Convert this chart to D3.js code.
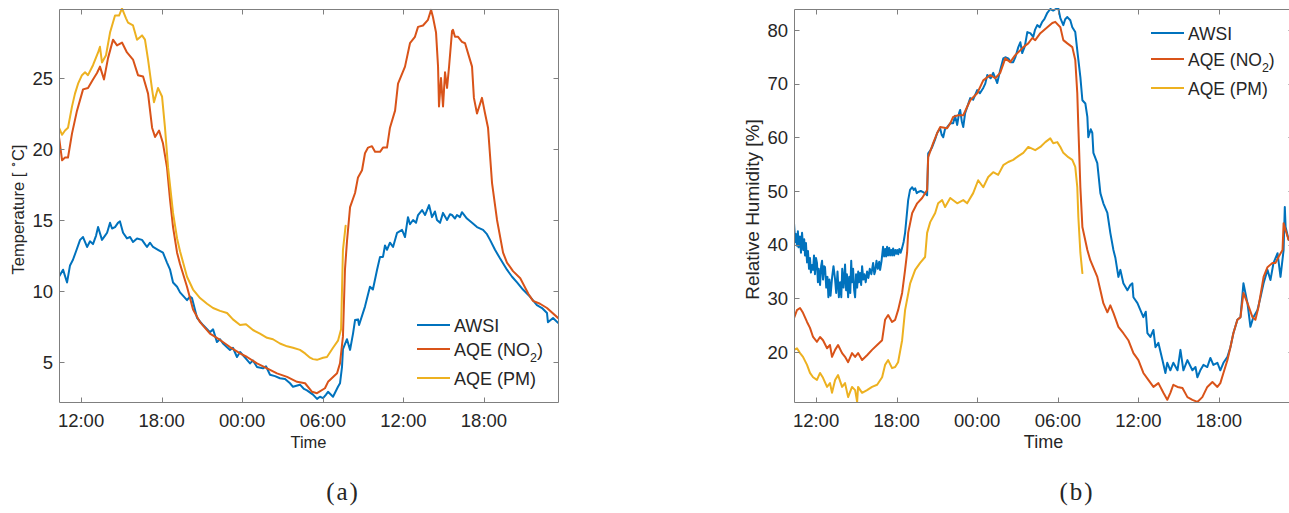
<!DOCTYPE html>
<html>
<head>
<meta charset="utf-8">
<script src="https://cdn.jsdelivr.net/npm/d3@7"></script>
<style>
  html, body { margin: 0; padding: 0; background: #ffffff; }
  svg { display: block; }
  text { font-family: "Liberation Sans", Arimo, Helvetica, Arial, sans-serif; fill: #262626; }
</style>
</head>
<body>
<svg id="chart" width="1289" height="513"></svg>
<script>
// ---------------- DATA ----------------
// time in hours since 00:00 of the first day
const timeDomain = [10.36, 47.51];
const timeTicks = [12, 18, 24, 30, 36, 42];
const timeTickLabels = ["12:00", "18:00", "00:00", "06:00", "12:00", "18:00"];
const tempTicks = [5, 10, 15, 20, 25];
const tempTickLabels = ["5", "10", "15", "20", "25"];
const rhTicks = [20, 30, 40, 50, 60, 70, 80];
const rhTickLabels = ["20", "30", "40", "50", "60", "70", "80"];
const seriesNames = ["AWSI", "AQE (NO", "AQE (PM)"];
const panelCaptions = ["(a)", "(b)"];

// (a) Temperature [°C]
const tempAWSI = [[10.36,11.0],[10.66,11.5],[10.96,10.6],[11.18,11.8],[11.40,12.2],[11.63,12.8],[11.93,13.6],[12.15,13.8],[12.45,13.1],[12.67,13.5],[12.89,13.3],[13.12,13.9],[13.27,14.5],[13.56,13.6],[13.79,13.9],[13.94,14.1],[14.16,14.8],[14.31,14.4],[14.53,14.5],[14.75,14.8],[14.90,14.9],[15.13,14.1],[15.42,13.7],[15.65,13.8],[15.87,13.45],[16.17,13.7],[16.54,13.6],[16.76,13.3],[16.91,13.1],[17.14,13.4],[17.36,13.1],[17.73,12.9],[18.10,12.7],[18.40,12.0],[18.63,11.5],[18.85,10.6],[19.15,10.3],[19.37,9.9],[19.89,9.35],[20.11,9.6],[20.26,9.5],[20.64,8.1],[21.08,7.6],[21.60,7.1],[21.83,7.3],[22.12,6.4],[22.35,6.6],[22.57,6.3],[23.09,5.85],[23.31,6.0],[23.61,5.35],[23.84,5.7],[24.21,5.3],[24.58,4.9],[24.80,5.1],[25.10,4.65],[25.55,4.55],[25.77,4.7],[26.07,4.1],[26.44,4.0],[26.81,3.85],[27.19,3.8],[27.56,3.5],[27.78,3.25],[28.30,3.4],[28.60,3.1],[28.82,3.0],[29.27,2.7],[29.57,2.4],[29.79,2.55],[30.02,2.45],[30.24,2.7],[30.39,2.9],[30.76,2.55],[31.13,3.25],[31.28,3.5],[31.43,4.65],[31.50,5.9],[31.80,6.6],[32.03,5.85],[32.25,7.0],[32.40,7.95],[32.62,8.0],[32.70,7.6],[33.14,8.9],[33.51,10.3],[33.73,10.1],[34.04,11.5],[34.26,12.4],[34.48,12.4],[34.63,13.2],[34.78,12.9],[35.00,13.4],[35.23,13.1],[35.53,14.1],[35.90,14.3],[36.12,13.8],[36.34,15.2],[36.49,14.7],[36.72,15.0],[36.94,14.8],[37.09,15.35],[37.39,15.7],[37.61,15.35],[37.91,16.05],[38.13,15.2],[38.35,15.6],[38.50,15.0],[38.73,14.8],[38.95,15.5],[39.25,15.0],[39.47,15.4],[39.62,15.35],[39.84,15.1],[39.99,15.35],[40.21,15.2],[40.36,15.55],[40.73,15.1],[41.11,14.8],[41.48,14.5],[41.93,14.3],[42.22,14.0],[42.45,13.6],[42.82,12.9],[43.19,12.3],[43.71,11.5],[44.09,11.0],[44.46,10.6],[44.90,10.1],[45.42,9.6],[45.94,9.0],[46.32,8.8],[46.69,8.45],[46.76,7.8],[47.14,8.1],[47.51,7.75]];
const tempNO2 = [[10.36,20.85],[10.59,19.2],[10.81,19.4],[11.03,19.4],[11.33,21.1],[11.70,22.7],[12.15,24.2],[12.52,24.3],[12.89,24.9],[13.19,25.35],[13.41,25.8],[13.71,24.9],[14.01,26.4],[14.38,27.7],[14.68,27.3],[15.05,27.5],[15.42,26.8],[15.87,26.3],[16.24,25.2],[16.62,25.1],[16.99,23.9],[17.29,21.5],[17.51,20.85],[17.81,21.3],[18.10,20.4],[18.40,18.7],[18.63,16.4],[18.85,14.5],[19.15,12.7],[19.37,11.9],[19.89,10.3],[20.34,8.7],[20.86,7.8],[21.60,7.0],[22.35,6.55],[23.09,6.05],[23.84,5.6],[24.36,5.35],[25.10,4.9],[25.85,4.55],[26.59,4.2],[27.34,3.95],[28.08,3.6],[28.68,3.5],[29.20,2.9],[29.57,2.8],[30.16,3.15],[30.39,3.6],[31.06,4.2],[31.28,4.9],[31.50,6.8],[31.65,11.5],[31.80,13.5],[32.03,15.9],[32.40,16.9],[32.62,18.0],[32.92,18.5],[33.14,19.7],[33.37,20.1],[33.66,20.2],[33.89,19.8],[34.26,19.8],[34.48,20.1],[34.78,20.1],[35.00,21.5],[35.38,22.7],[35.60,24.6],[36.12,25.8],[36.49,27.45],[36.86,27.9],[37.09,28.6],[37.46,28.7],[37.83,29.1],[38.06,29.8],[38.20,29.3],[38.43,28.2],[38.58,25.8],[38.65,23.0],[38.80,25.0],[38.95,23.0],[39.10,25.4],[39.25,24.3],[39.40,25.8],[39.62,28.3],[39.69,28.4],[39.84,27.9],[40.07,27.9],[40.36,27.55],[40.59,27.45],[40.81,26.75],[41.11,25.8],[41.25,23.6],[41.48,22.5],[41.85,23.6],[42.08,22.5],[42.30,21.5],[42.60,17.6],[42.97,15.0],[43.42,12.7],[43.71,12.0],[44.16,11.4],[44.70,10.9],[45.30,9.8],[45.65,9.3],[46.17,9.1],[46.69,8.8],[47.51,8.1]];
const tempPM = [[10.36,21.5],[10.59,21.0],[10.81,21.3],[11.03,21.5],[11.33,23.0],[11.55,23.9],[11.78,24.6],[12.07,25.2],[12.30,25.4],[12.52,25.2],[12.89,25.9],[13.27,26.8],[13.41,27.2],[13.56,26.1],[13.86,26.6],[14.16,28.2],[14.53,29.4],[14.83,29.4],[15.05,29.9],[15.35,29.2],[15.50,28.9],[15.87,28.7],[16.17,27.7],[16.54,28.0],[16.76,27.7],[16.99,26.3],[17.29,24.2],[17.43,23.3],[17.73,24.3],[18.03,23.7],[18.25,21.5],[18.48,18.7],[18.85,15.5],[19.15,13.7],[19.37,12.8],[19.89,11.0],[20.34,10.1],[20.86,9.5],[21.38,9.1],[21.83,8.8],[22.35,8.6],[22.87,8.45],[23.31,8.0],[23.84,7.6],[24.28,7.65],[24.80,7.25],[25.32,7.0],[25.85,6.7],[26.29,6.6],[26.81,6.3],[27.34,6.1],[27.78,6.0],[28.30,5.85],[28.68,5.6],[29.05,5.3],[29.27,5.2],[29.57,5.15],[30.02,5.3],[30.31,5.35],[30.76,6.0],[31.13,6.5],[31.36,7.3],[31.50,12.9],[31.70,14.6]];

// (b) Relative Humidity [%]
const rhAWSI = [[10.36,44.0],[10.45,40.5],[10.50,42.0],[10.58,39.8],[10.65,42.5],[10.70,39.5],[10.80,41.5],[10.88,38.5],[10.96,42.2],[11.05,39.0],[11.12,41.0],[11.18,38.0],[11.25,40.3],[11.33,36.7],[11.40,38.8],[11.48,35.5],[11.55,37.5],[11.62,34.8],[11.70,36.2],[11.78,35.3],[11.85,38.0],[11.92,34.5],[12.00,37.5],[12.07,36.6],[12.14,33.0],[12.20,35.5],[12.30,32.5],[12.38,36.0],[12.45,37.0],[12.52,33.5],[12.60,36.0],[12.67,35.8],[12.76,32.0],[12.85,34.0],[12.92,30.2],[13.00,33.5],[13.08,30.5],[13.20,34.0],[13.30,36.0],[13.42,33.5],[13.50,31.0],[13.60,35.0],[13.70,30.2],[13.79,33.0],[13.88,30.2],[13.95,35.5],[14.05,32.0],[14.16,36.3],[14.24,31.5],[14.30,34.5],[14.39,30.2],[14.47,34.0],[14.55,31.0],[14.62,37.0],[14.68,33.0],[14.76,35.5],[14.84,31.5],[14.91,30.2],[14.98,34.5],[15.06,32.0],[15.14,35.0],[15.20,33.0],[15.28,34.7],[15.36,32.5],[15.43,36.0],[15.52,33.5],[15.60,34.5],[15.70,33.0],[15.80,35.0],[15.90,33.8],[16.00,35.5],[16.12,34.5],[16.25,36.6],[16.34,34.5],[16.40,35.0],[16.50,37.0],[16.60,35.5],[16.70,36.8],[16.77,35.3],[16.88,37.0],[16.99,39.6],[17.07,37.8],[17.15,39.2],[17.22,37.8],[17.29,39.6],[17.37,38.0],[17.45,39.4],[17.52,38.0],[17.60,39.0],[17.67,38.0],[17.74,39.3],[17.82,38.0],[17.90,39.0],[17.97,38.3],[18.04,39.0],[18.12,38.2],[18.20,39.2],[18.30,38.5],[18.41,39.4],[18.52,40.5],[18.63,42.2],[18.86,48.3],[19.00,50.2],[19.16,50.7],[19.28,50.2],[19.38,50.5],[19.50,49.6],[19.60,49.8],[19.80,50.0],[19.97,49.8],[20.15,49.5],[20.27,49.2],[20.35,57.0],[20.50,57.5],[20.65,58.2],[20.85,59.5],[21.02,60.8],[21.24,61.7],[21.35,60.5],[21.47,60.0],[21.60,61.5],[21.76,61.9],[21.99,62.6],[22.21,62.6],[22.35,64.0],[22.51,62.3],[22.65,64.5],[22.73,65.1],[22.85,63.0],[22.96,61.9],[23.10,64.5],[23.25,65.6],[23.48,67.3],[23.70,67.0],[24.00,68.8],[24.20,68.2],[24.45,69.2],[24.60,70.0],[24.75,71.6],[25.00,71.0],[25.19,72.0],[25.35,71.0],[25.49,70.1],[25.71,72.5],[25.94,74.7],[26.09,74.9],[26.31,74.7],[26.50,74.0],[26.68,74.0],[26.85,75.0],[27.06,76.8],[27.21,77.7],[27.35,75.7],[27.55,77.0],[27.73,79.6],[27.95,79.4],[28.17,78.7],[28.30,80.0],[28.47,80.9],[28.65,80.5],[28.84,81.5],[29.00,82.0],[29.22,83.2],[29.44,83.9],[29.66,83.6],[29.85,83.9],[30.04,84.0],[30.19,82.2],[30.41,80.9],[30.55,82.0],[30.71,82.4],[30.93,81.8],[31.08,80.5],[31.30,79.6],[31.45,76.2],[31.68,71.2],[31.83,66.9],[32.05,66.3],[32.20,63.8],[32.27,60.0],[32.45,61.5],[32.57,60.8],[32.65,57.1],[32.94,55.2],[33.17,49.6],[33.39,47.7],[33.69,45.9],[33.91,42.2],[34.14,39.0],[34.29,37.5],[34.51,34.0],[34.66,35.3],[34.88,32.8],[35.18,31.5],[35.40,32.5],[35.55,32.8],[35.63,30.2],[35.93,29.1],[36.15,27.8],[36.37,26.5],[36.55,27.5],[36.67,23.5],[36.89,22.8],[37.12,24.1],[37.27,20.9],[37.49,21.7],[37.79,18.5],[38.01,16.1],[38.15,18.0],[38.38,16.6],[38.60,18.0],[38.91,16.6],[39.13,20.4],[39.35,16.6],[39.65,18.5],[40.02,16.6],[40.25,17.2],[40.39,15.3],[40.61,16.6],[40.84,17.6],[41.13,17.2],[41.36,18.9],[41.58,17.6],[41.88,18.0],[42.10,16.6],[42.33,18.0],[42.63,19.1],[42.85,20.9],[43.07,23.5],[43.37,26.0],[43.60,26.5],[43.82,32.8],[44.12,29.1],[44.34,24.7],[44.56,26.5],[44.86,27.8],[45.09,30.2],[45.32,32.8],[45.61,35.3],[45.83,33.4],[46.06,36.6],[46.36,38.4],[46.58,34.0],[46.81,39.0],[46.90,47.0],[46.96,43.3],[47.18,40.9]];
const rhNO2 = [[10.36,26.3],[10.58,27.8],[10.81,28.2],[11.03,27.3],[11.33,25.6],[11.55,24.5],[11.78,22.8],[12.07,21.9],[12.30,22.8],[12.52,22.2],[12.82,20.7],[13.04,21.3],[13.19,19.1],[13.42,20.4],[13.64,21.3],[13.94,19.8],[14.16,19.1],[14.39,18.1],[14.68,19.8],[14.91,19.1],[15.13,19.8],[15.43,18.5],[15.80,19.4],[16.17,20.4],[16.55,21.3],[16.92,22.2],[17.14,26.0],[17.37,26.9],[17.66,25.6],[17.89,26.0],[18.11,27.8],[18.41,31.0],[18.63,35.3],[18.78,38.5],[18.86,42.2],[19.16,45.9],[19.53,47.7],[19.90,48.7],[20.27,50.2],[20.35,56.3],[20.72,58.9],[21.02,60.8],[21.24,61.9],[21.76,61.7],[21.99,62.6],[22.21,63.8],[22.58,64.1],[22.96,64.1],[23.48,66.9],[24.00,68.2],[24.45,70.6],[24.97,71.6],[25.34,71.0],[25.71,72.0],[26.09,74.7],[26.46,74.0],[26.83,75.3],[27.21,76.2],[27.43,76.8],[27.80,77.5],[28.10,78.5],[28.32,78.1],[28.70,79.4],[29.22,80.5],[29.59,81.3],[29.81,81.5],[30.19,80.5],[30.41,78.1],[30.71,77.5],[31.08,76.8],[31.30,74.4],[31.45,68.2],[31.53,61.9],[31.68,50.7],[31.83,43.3],[32.20,39.0],[32.42,37.1],[32.94,34.0],[33.17,31.5],[33.39,29.1],[33.69,27.4],[33.91,28.7],[34.14,27.3],[34.51,24.7],[34.88,23.5],[35.25,22.2],[35.63,19.8],[36.00,18.5],[36.37,16.1],[36.74,14.8],[37.12,13.5],[37.49,14.2],[37.86,12.4],[38.15,11.1],[38.38,12.4],[38.60,13.9],[38.91,13.5],[39.28,13.3],[39.65,11.6],[40.02,11.1],[40.39,10.7],[40.76,11.6],[41.13,13.5],[41.51,14.4],[41.88,13.5],[42.10,14.2],[42.33,16.1],[42.63,18.5],[42.85,20.9],[43.07,23.5],[43.37,26.0],[43.60,26.5],[43.82,31.0],[44.12,29.1],[44.49,26.5],[44.71,26.0],[44.94,28.4],[45.32,34.0],[45.61,35.8],[45.98,36.6],[46.21,36.6],[46.43,37.7],[46.73,39.0],[46.81,44.0],[46.96,42.7],[47.18,40.9]];
const rhPM = [[10.36,20.4],[10.58,20.7],[10.81,19.8],[11.03,19.1],[11.33,17.6],[11.55,16.1],[11.78,15.3],[12.07,14.8],[12.30,16.1],[12.52,15.2],[12.82,13.5],[13.04,14.2],[13.19,12.4],[13.42,14.8],[13.64,15.7],[13.94,13.5],[14.16,14.2],[14.39,11.6],[14.68,13.5],[14.91,12.9],[15.06,10.7],[15.13,13.5],[15.43,12.4],[15.80,12.9],[16.17,13.5],[16.55,13.9],[16.92,15.3],[17.14,17.6],[17.37,18.5],[17.66,17.0],[17.89,17.2],[18.11,18.1],[18.41,22.2],[18.63,27.8],[19.01,32.8],[19.38,35.3],[19.75,36.6],[20.12,37.7],[20.27,42.2],[20.50,44.2],[20.87,45.9],[21.09,47.7],[21.39,48.3],[21.61,47.0],[21.99,48.7],[22.51,47.7],[22.96,48.3],[23.25,47.7],[23.70,49.6],[24.07,52.0],[24.45,50.7],[24.82,52.6],[25.19,53.5],[25.56,53.0],[25.94,54.8],[26.31,55.4],[26.68,55.8],[27.06,56.5],[27.43,57.1],[27.80,58.2],[28.32,57.6],[28.70,58.2],[29.07,59.1],[29.44,59.8],[29.66,58.9],[29.96,59.1],[30.19,58.2],[30.41,57.1],[30.78,56.3],[31.08,55.8],[31.30,54.5],[31.45,50.7],[31.53,45.1],[31.68,38.5],[31.83,34.7]];

// ---------------- DRAW ----------------
const colors = ["#0072BD", "#D95319", "#EDB120"];
const svg = d3.select("#chart");

const panels = [
  { left: 59, right: 558, top: 9, bottom: 402, yDomain: [2.18, 29.86],
    yTicks: tempTicks, yTickLabels: tempTickLabels, series: [tempAWSI, tempNO2, tempPM],
    ylabel: "temp", ylabelX: 24, ylabelSize: 16.5, xlabelSize: 16.5, legendSize: 18,
    legendX: 417, legendY: [325, 349, 378], caption: panelCaptions[0], captionX: 343 },
  { left: 794, right: 1293, top: 9, bottom: 402, yDomain: [10.69, 83.9],
    yTicks: rhTicks, yTickLabels: rhTickLabels, series: [rhAWSI, rhNO2, rhPM],
    ylabel: "rh", ylabelX: 759, ylabelSize: 19, xlabelSize: 18, legendSize: 17.5,
    legendX: 1151, legendY: [33, 59, 88], caption: panelCaptions[1], captionX: 1077 }
];

const axisColor = "#7f7f7f";
const tickFont = 18.5;

panels.forEach((p, pi) => {
  const x = d3.scaleLinear().domain(timeDomain).range([p.left, p.right]);
  const y = d3.scaleLinear().domain(p.yDomain).range([p.bottom, p.top]);
  const g = svg.append("g");

  const clipId = "clip" + pi;
  svg.append("clipPath").attr("id", clipId).append("rect")
    .attr("x", p.left).attr("y", p.top - 1).attr("width", p.right - p.left).attr("height", p.bottom - p.top + 2);

  // lines
  const line = d3.line().x(d => x(d[0])).y(d => y(d[1]));
  const lg = g.append("g").attr("clip-path", `url(#${clipId})`);
  p.series.forEach((s, si) => {
    lg.append("path").datum(s).attr("d", line)
      .attr("fill", "none").attr("stroke", colors[si]).attr("stroke-width", 2)
      .attr("stroke-linejoin", "round").attr("stroke-linecap", "round");
  });

  // box
  const L = Math.round(p.left) + 0.5, R = Math.round(p.right) + 0.5, T = Math.round(p.top) + 0.5, B = Math.round(p.bottom) + 0.5;
  const ag = g.append("g").attr("stroke", axisColor).attr("stroke-width", 1).attr("fill", "none");
  ag.append("path").attr("d", `M${L},${T}H${R}V${B}H${L}Z`);
  const tl = 5;
  timeTicks.forEach(t => {
    const xx = Math.round(x(t)) + 0.5;
    ag.append("line").attr("x1", xx).attr("x2", xx).attr("y1", B).attr("y2", B - tl);
    ag.append("line").attr("x1", xx).attr("x2", xx).attr("y1", T).attr("y2", T + tl);
  });
  p.yTicks.forEach(v => {
    const yy = Math.round(y(v)) + 0.5;
    ag.append("line").attr("x1", L).attr("x2", L + tl).attr("y1", yy).attr("y2", yy);
    ag.append("line").attr("x1", R).attr("x2", R - tl).attr("y1", yy).attr("y2", yy);
  });

  // tick labels
  timeTicks.forEach((t, i) => {
    g.append("text").attr("x", x(t)).attr("y", 427).attr("text-anchor", "middle")
      .attr("font-size", tickFont).text(timeTickLabels[i]);
  });
  p.yTicks.forEach((v, i) => {
    g.append("text").attr("x", p.left - 6).attr("y", y(v)).attr("dy", "0.36em")
      .attr("text-anchor", "end").attr("font-size", tickFont).text(p.yTickLabels[i]);
  });

  // x label
  g.append("text").attr("x", (p.left + p.right) / 2).attr("y", 448).attr("text-anchor", "middle")
    .attr("font-size", p.xlabelSize).text("Time");

  // y label
  const yl = g.append("text").attr("transform", `translate(${p.ylabelX},${(p.top + p.bottom) / 2 + 4}) rotate(-90)`)
    .attr("text-anchor", "middle").attr("font-size", p.ylabelSize);
  if (p.ylabel === "temp") {
    yl.append("tspan").text("Temperature [ ");
    yl.append("tspan").attr("dy", -7).attr("font-size", 11).text("∘");
    yl.append("tspan").attr("dy", 7).text("C]");
  } else {
    yl.text("Relative Humidity [%]");
  }

  // legend
  seriesNames.forEach((name, si) => {
    const ly = p.legendY[si];
    g.append("line").attr("x1", p.legendX).attr("x2", p.legendX + 33).attr("y1", ly).attr("y2", ly)
      .attr("stroke", colors[si]).attr("stroke-width", 2);
    const t = g.append("text").attr("x", p.legendX + 37).attr("y", ly + 6.5).attr("font-size", p.legendSize);
    if (si === 1) {
      t.append("tspan").text(name);
      t.append("tspan").attr("dy", 6).attr("font-size", 12.5).text("2");
      t.append("tspan").attr("dy", -6).text(")");
    } else {
      t.text(name);
    }
  });

  // caption
  svg.append("text").attr("x", p.captionX).attr("y", 500).attr("text-anchor", "middle")
    .attr("font-size", 25).attr("letter-spacing", 2)
    .style("font-family", "'Liberation Serif', 'Times New Roman', serif")
    .text(p.caption);
});
</script>
</body>
</html>
